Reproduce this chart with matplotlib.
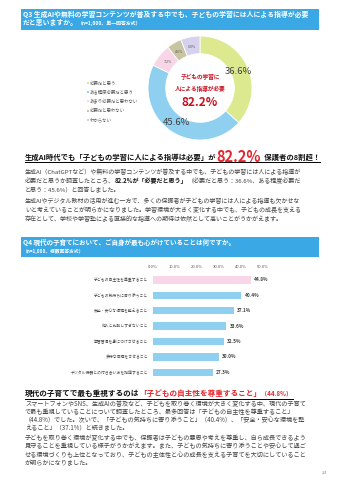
import matplotlib
matplotlib.use('Agg')
import matplotlib.pyplot as plt
from matplotlib.lines import Line2D
from matplotlib.patches import Rectangle
import numpy as np

plt.rcParams['font.family'] = ['Noto Sans CJK JP', 'DejaVu Sans']

# ---------------- data ----------------
pie_labels = ['必要だと思う', 'ある程度必要だと思う', 'あまり必要だと思わない', '必要だと思わない', 'わからない']
pie_values = [36.6, 45.6, 7.2, 4.6, 6.0]
pie_colors = ['#dde98f', '#8fd0f0', '#f8d6e7', '#c9c5a2', '#d6d1ec']

bar_categories = ['子どもの自主性を尊重すること', '子どもの気持ちに寄り添うこと', '安全・安心な環境を整えること',
                  '他人と比較しすぎないこと', '学習習慣を身につけさせること', '多様な体験をさせること',
                  'デジタル機器との付き合い方を指導すること']
bar_values = [44.8, 40.4, 37.1, 33.6, 32.5, 30.0, 27.3]
bar_colors = ['#f8d6e7'] + ['#8fd0f0'] * 6
bar_ticks = [0, 10, 20, 30, 40, 50]

W, H = 340, 480
fig = plt.figure(figsize=(3.4, 4.8), dpi=100)
fig.patch.set_facecolor('white')
renderer = fig.canvas.get_renderer()

BLUE = '#3ba8e6'
RED = '#e5242c'
DRED = '#c8101e'
TXT = '#444444'


def fx(x):
    return x / W


def fy(y):
    return 1 - y / H


def measure(text, size, weight='normal'):
    t = fig.text(0, 0, text, fontsize=size, fontweight=weight)
    w = t.get_window_extent(renderer).width
    t.remove()
    return w


def fit(text, width, weight='normal'):
    return 5.0 * width / measure(text, 5.0, weight)


def rich(x, y, segs):
    cx = x
    for text, size, weight, color in segs:
        t = fig.text(fx(cx), fy(y), text, fontsize=size, fontweight=weight,
                     color=color, ha='left', va='center')
        cx += t.get_window_extent(renderer).width
    return cx


def box(x0, y0, x1, y1, color):
    fig.add_artist(Rectangle((fx(x0), fy(y1)), fx(x1) - fx(x0), (y1 - y0) / H,
                             transform=fig.transFigure, facecolor=color, edgecolor='none'))


def underline(x0, x1, y, color='black', lw=0.7):
    fig.add_artist(Line2D([fx(x0), fx(x1)], [fy(y), fy(y)], transform=fig.transFigure,
                          color=color, lw=lw))


# ---------------- Q3 header ----------------
box(21, 9, 319, 30, BLUE)
q3l1 = 'Q3 生成AIや無料の学習コンテンツが普及する中でも、子どもの学習には人による指導が必要'
s = fit(q3l1, 286, 'bold')
rich(23, 14, [(q3l1, s, 'bold', 'white')])
rich(23, 23, [('だと思いますか。', s, 'bold', 'white'), ('（n=1,000、単一回答方式）', s * 0.72, 'bold', 'white')])

# ---------------- donut ----------------
ax = fig.add_axes([fx(148), fy(140), 104 / W, 104 / H])
wedges, _ = ax.pie(pie_values, colors=pie_colors, startangle=90, counterclock=False, radius=1,
                   wedgeprops=dict(width=0.34, edgecolor='white', linewidth=0.6))
ax.set_xlim(-1, 1)
ax.set_ylim(-1, 1)
for i, (w, v) in enumerate(zip(wedges, pie_values)):
    ang = np.deg2rad((w.theta1 + w.theta2) / 2)
    big = v > 20
    r = 0.80
    ax.text(r * np.cos(ang), r * np.sin(ang), f'{v:.1f}%', ha='center', va='center',
            fontsize=6.8 if big else 2.6, color='#404040' if big else '#555555')
ax.text(0, 0.22, '子どもの学習に', ha='center', va='center', fontsize=4.1, fontweight='bold', color=DRED)
ax.text(0, -0.02, '人による指導が必要', ha='center', va='center', fontsize=4.1, fontweight='bold', color=DRED)
ax.text(0, -0.27, '82.2%', ha='center', va='center', fontsize=8.6, fontweight='bold', color=DRED)

# legend
for i, (lab, col) in enumerate(zip(pie_labels, pie_colors)):
    yy = 83 + i * 9.2
    fig.add_artist(Rectangle((fx(86.5), fy(yy + 1)), 2 / W, 2 / H, transform=fig.transFigure,
                             facecolor=col, edgecolor='none'))
    fig.text(fx(90), fy(yy), lab, fontsize=3.2, color='#555555', va='center', ha='left')

# ---------------- headline 1 ----------------
h1 = '生成AI時代でも「子どもの学習に人による指導は必要」が'
hs = fit(h1, 193, 'bold')
e = rich(25, 157, [(h1, hs, 'bold', '#111111'), ('82.2%', 10.5, 'bold', RED),
                   ('  保護者の8割超！', hs, 'bold', '#111111')])
underline(25, e, 162)

p1 = '生成AI（ChatGPTなど）や無料の学習コンテンツが普及する中でも、子どもの学習には人による指導が'
ps = fit(p1, 280)
rich(25, 172, [(p1, ps, 'normal', TXT)])
rich(25, 181, [('必要だと思うか調査したところ、', ps, 'normal', TXT), ('82.2%が「必要だと思う」', ps, 'bold', '#111111'),
               ('（必要だと思う：36.6%、ある程度必要だ', ps, 'normal', TXT)])
rich(25, 190, [('と思う：45.6%）と回答しました。', ps, 'normal', TXT)])
rich(25, 201, [('生成AIやデジタル教材の活用が進む一方で、多くの保護者が子どもの学習には人による指導も欠かせな', ps, 'normal', TXT)])
rich(25, 210, [('いと考えていることが明らかになりました。学習環境が大きく変化する中でも、子どもの成長を支える', ps, 'normal', TXT)])
rich(25, 219, [('存在として、学校や学習塾による直接的な指導への期待は依然として高いことがうかがえます。', ps, 'normal', TXT)])

# ---------------- Q4 header ----------------
box(21, 237, 319, 257, BLUE)
q4l1 = 'Q4 現代の子育てにおいて、ご自身が最も心がけていることは何ですか。'
s4 = fit(q4l1, 216, 'bold')
rich(23, 242, [(q4l1, s4, 'bold', 'white')])
rich(23, 251, [('（n=1,000、複数回答方式）', s4 * 0.72, 'bold', 'white')])

# ---------------- bar chart ----------------
n = len(bar_values)
ax2 = fig.add_axes([fx(152.5), fy(380), 110 / W, (380 - 272.3) / H])
ax2.barh(range(n), bar_values, height=0.48, color=bar_colors)
ax2.set_xlim(0, 50)
ax2.set_ylim(n - 0.5, -0.5)
ax2.set_xticks(bar_ticks)
ax2.set_xticklabels([f'{t:.1f}%' for t in bar_ticks], fontsize=3.0, color='#555555')
ax2.xaxis.tick_top()
ax2.tick_params(axis='x', length=0, pad=2.5)
ax2.set_yticks(range(n))
ax2.set_yticklabels(bar_categories, fontsize=2.75, color='#444444')
ax2.tick_params(axis='y', length=0, pad=3)
for sp in ax2.spines.values():
    sp.set_visible(False)
ax2.set_facecolor('none')
for i, v in enumerate(bar_values):
    ax2.text(v + 1.4, i, f'{v:.1f}%', va='center', ha='left', fontsize=3.4, fontweight='bold', color='#444444')

# ---------------- headline 2 ----------------
h2a = '現代の子育てで最も重視するのは'
h2s = fit(h2a, 115, 'bold')
e2 = rich(25, 393, [(h2a, h2s, 'bold', '#111111'), ('「子どもの自主性を尊重すること」', h2s, 'bold', RED),
                    ('（44.8%）', h2s * 0.8, 'bold', RED)])
underline(25, e2, 398.5)

p3 = 'スマートフォンやSNS、生成AIの普及など、子どもを取り巻く環境が大きく変化する中、現代の子育て'
p3s = fit(p3, 285)
lines = ['スマートフォンやSNS、生成AIの普及など、子どもを取り巻く環境が大きく変化する中、現代の子育て',
         'で最も重視していることについて調査したところ、最多回答は「子どもの自主性を尊重すること」',
         '（44.8%）でした。次いで、「子どもの気持ちに寄り添うこと」（40.4%）、「安全・安心な環境を整',
         'えること」（37.1%）と続きました。',
         '子どもを取り巻く環境が変化する中でも、保護者は子どもの意思や考えを尊重し、自ら成長できるよう',
         '見守ることを重視している様子がうかがえます。また、子どもの気持ちに寄り添うことや安心して過ご',
         'せる環境づくりも上位となっており、子どもの主体性と心の成長を支える子育てを大切にしていること',
         'が明らかになりました。']
ys = [404, 412, 420, 428, 438, 446, 455, 463]
for ln, yy in zip(lines, ys):
    rich(25, yy, [(ln, p3s, 'normal', TXT)])

fig.text(fx(325), fy(473), '2/4', fontsize=2.6, color='#888888', ha='center', va='center')

fig.savefig('out.png', dpi=100, facecolor='white')
